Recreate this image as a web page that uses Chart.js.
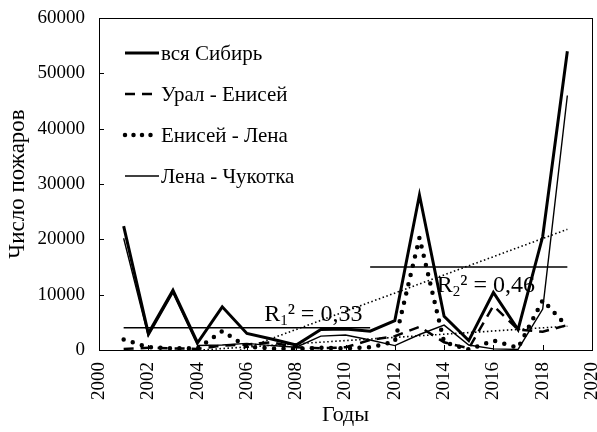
<!DOCTYPE html>
<html>
<head>
<meta charset="utf-8">
<script src="https://cdn.jsdelivr.net/npm/chart.js"></script>
<style>
  body { margin: 0; background: #fff; }
  #wrap { width: 597px; height: 432px; }
</style>
</head>
<body>
<div id="wrap"><canvas id="fires"></canvas></div>
<script>
// years and fire counts
const years = [2001, 2002, 2003, 2004, 2005, 2006, 2007, 2008, 2009, 2010,
               2011, 2012, 2013, 2014, 2015, 2016, 2017, 2018, 2019];
const allSiberia   = [22400, 3000, 10800, 1300, 7800, 3000, 2000, 900, 3700, 3800,
                      3400, 5300, 28000, 6100, 1700, 10400, 3700, 20500, 54000];
const uralYenisei  = [200, 400, 300, 200, 800, 1000, 1400, 500, 300, 500,
                      1800, 2500, 4200, 1400, 300, 8000, 3700, 3300, 4500];
const yeniseiLena  = [1900, 500, 300, 300, 3400, 600, 300, 200, 400, 300,
                      500, 1500, 20300, 1400, 100, 1700, 400, 9000, 4200];
const lenaChukotka = [20200, 2500, 10300, 800, 900, 1200, 800, 500, 2500, 2700,
                      1800, 800, 2800, 4500, 900, 200, 100, 7400, 46000];

const seriesNames = ['вся Сибирь', 'Урал - Енисей', 'Енисей - Лена', 'Лена - Чукотка'];

// trend and period-mean lines (end points)
const trendYears  = [2001, 2019];
const trendAll    = [-7800, 21800];
const trendSecond = [-900, 4300];
const mean1Years  = [2001, 2011];
const mean1Values = [4000, 4000];
const mean2Years  = [2011, 2019];
const mean2Values = [15000, 15000];

const r1Label = { x: 2006.7, y: 6600, idx: '1', text: '² = 0,33' };
const r2Label = { x: 2013.7, y: 11900, idx: '2', text: '² = 0,46' };

const FONT = '"Liberation Serif", "Times New Roman", serif';

function pts(xs, ys) {
    return xs.map((x, i) => ({ x: x, y: ys[i] }));
}

const lineStyles = [
    { borderWidth: 3, borderDash: [], borderCapStyle: 'butt' },
    { borderWidth: 2.5, borderDash: [10, 7], borderCapStyle: 'butt' },
    { borderWidth: 4.5, borderDash: [0, 9.5], borderCapStyle: 'round' },
    { borderWidth: 1.4, borderDash: [], borderCapStyle: 'butt' }
];
const seriesData = [allSiberia, uralYenisei, yeniseiLena, lenaChukotka];

const datasets = seriesData.map((vals, i) => Object.assign({
    label: seriesNames[i],
    data: pts(years, vals),
    borderColor: '#000',
    pointRadius: 0,
    tension: 0,
    fill: false
}, lineStyles[i]));

datasets.push(
    { label: 'trend1', data: pts(trendYears, trendAll), borderColor: '#000', borderWidth: 1.6,
      borderDash: [1.5, 2.5], pointRadius: 0 },
    { label: 'trend2', data: pts(trendYears, trendSecond), borderColor: '#000', borderWidth: 1.6,
      borderDash: [1.5, 2.5], pointRadius: 0 },
    { label: 'mean1', data: pts(mean1Years, mean1Values), borderColor: '#000', borderWidth: 1.5, pointRadius: 0 },
    { label: 'mean2', data: pts(mean2Years, mean2Values), borderColor: '#000', borderWidth: 1.5, pointRadius: 0 }
);

// frame, inward tick marks, legend inside the plot and R² labels
const extras = {
    id: 'extras',
    afterDatasetsDraw(chart) {
        const ctx = chart.ctx;
        const a = chart.chartArea;
        const xs = chart.scales.x, ys = chart.scales.y;
        ctx.save();
        ctx.strokeStyle = '#000';
        ctx.lineWidth = 1;
        ctx.strokeRect(a.left + 0.5, a.top + 0.5, a.right - a.left, a.bottom - a.top);
        ctx.beginPath();
        xs.ticks.forEach(t => {
            const px = Math.round(xs.getPixelForValue(t.value)) + 0.5;
            ctx.moveTo(px, a.bottom); ctx.lineTo(px, a.bottom - 5);
        });
        ys.ticks.forEach(t => {
            const py = Math.round(ys.getPixelForValue(t.value)) + 0.5;
            ctx.moveTo(a.left, py); ctx.lineTo(a.left + 5, py);
        });
        ctx.stroke();

        // legend
        ctx.font = '21px ' + FONT;
        ctx.fillStyle = '#000';
        ctx.textBaseline = 'middle';
        const lx = a.left + 26;
        seriesNames.forEach((name, i) => {
            const y = a.top + 35 + i * 41;
            const st = lineStyles[i];
            ctx.beginPath();
            ctx.lineWidth = st.borderWidth;
            ctx.lineCap = st.borderCapStyle;
            ctx.setLineDash(i === 2 ? [0, 8.5] : st.borderDash);
            ctx.moveTo(lx, y);
            ctx.lineTo(lx + 34, y);
            ctx.stroke();
            ctx.setLineDash([]);
            ctx.fillText(name, lx + 36, y + 1);
        });

        // R² labels
        [r1Label, r2Label].forEach(l => {
            const px = xs.getPixelForValue(l.x);
            const py = ys.getPixelForValue(l.y);
            ctx.font = '24px ' + FONT;
            ctx.textBaseline = 'alphabetic';
            ctx.fillText('R', px, py + 8);
            let w = ctx.measureText('R').width;
            ctx.font = '15px ' + FONT;
            ctx.fillText(l.idx, px + w, py + 12);
            w += ctx.measureText(l.idx).width;
            ctx.font = '24px ' + FONT;
            ctx.fillText(l.text, px + w, py + 8);
        });
        ctx.restore();
    }
};

new Chart(document.getElementById('fires'), {
    type: 'line',
    data: { datasets: datasets },
    options: {
        responsive: true,
        maintainAspectRatio: false,
        animation: false,
        layout: { padding: { top: 18, right: 5, left: 0, bottom: 0 } },
        plugins: { legend: { display: false }, tooltip: { enabled: false } },
        scales: {
            x: {
                type: 'linear',
                min: 2000, max: 2020,
                border: { display: false },
                grid: { display: false },
                ticks: {
                    stepSize: 2, minRotation: 90, maxRotation: 90, padding: 4,
                    color: '#000', font: { family: FONT, size: 19 },
                    callback: v => String(v)
                },
                title: { display: true, text: 'Годы', color: '#000', padding: { top: 2 },
                         font: { family: FONT, size: 22 } },
                afterFit: s => { s.height = 82; s.paddingLeft = 0; s.paddingRight = 0; }
            },
            y: {
                min: 0, max: 60000,
                border: { display: false },
                grid: { display: false },
                ticks: { stepSize: 10000, padding: 6, color: '#000',
                         font: { family: FONT, size: 19 }, callback: v => String(v) },
                title: { display: true, text: 'Число пожаров', color: '#000', padding: { bottom: 2 },
                         font: { family: FONT, size: 23 } },
                afterFit: s => { s.width = 99; s.paddingTop = 0; s.paddingBottom = 0; }
            }
        }
    },
    plugins: [extras]
});
</script>
</body>
</html>
